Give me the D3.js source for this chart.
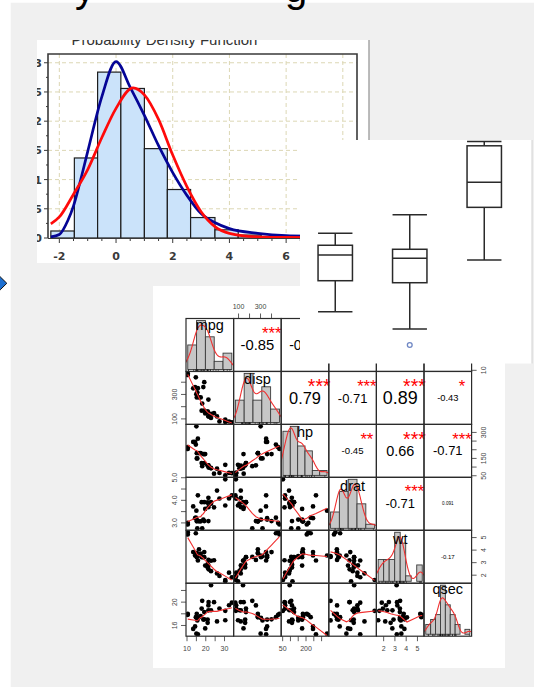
<!DOCTYPE html>
<html><head><meta charset="utf-8">
<script src="https://cdn.jsdelivr.net/npm/d3@7"></script>
<style>html,body{margin:0;padding:0;background:#fff;}svg{display:block;}</style>
</head><body>
<svg id="c" width="534" height="687"></svg>
<script>
// ---------------- data ----------------
const titleFragments = ["y", "g"];
const pdfTitle = "Probability Density Function";
const pdfXTicks = [-2, 0, 2, 4, 6, 8];
const pdfYTicks = [0, 0.05, 0.1, 0.15, 0.2, 0.25, 0.3];
const pdfYTickLabels = ["0", "0.05", "0.1", "0.15", "0.2", "0.25", "0.3"];
const pdfBinEdges = [-2.30, -1.47, -0.65, 0.17, 1.00, 1.81, 2.63, 3.49, 4.31, 5.12];
const pdfBinDensity = [0.012, 0.137, 0.284, 0.256, 0.153, 0.083, 0.035, 0.014, 0.005];
const pdfBlueX = [-2.3, -2.0, -1.7, -1.5, -1.3, -1.0, -0.5, 0, 0.5, 1.0, 1.5, 2.0, 2.5, 3.0, 3.5, 4.0, 5.0, 6.0, 7.0, 8.4];
const pdfBlueY = [0.002, 0.006, 0.03, 0.055, 0.09, 0.148, 0.242, 0.302, 0.258, 0.21, 0.158, 0.112, 0.073, 0.042, 0.026, 0.016, 0.008, 0.004, 0.003, 0.002];
const pdfRedX = [-2.3, -2.0, -1.5, -1.0, -0.5, 0, 0.6, 1.0, 1.5, 2.0, 2.5, 3.0, 3.5, 4.0, 5.0, 6.0, 7.0, 8.4];
const pdfRedY = [0.024, 0.036, 0.075, 0.117, 0.172, 0.222, 0.257, 0.245, 0.203, 0.142, 0.088, 0.045, 0.019, 0.008, 0.002, 0.001, 0.0005, 0.0002];

const boxGroups = ["A", "B", "C"];
const boxWhiskerLow = [2.30, 1.52, 4.62];
const boxQ1 = [3.69, 3.60, 6.98];
const boxMedian = [4.84, 4.70, 8.10];
const boxQ3 = [5.28, 5.10, 9.74];
const boxWhiskerHigh = [5.82, 6.65, 9.93];
const boxOutliers = [[], [0.81], []];

const varNames = ["mpg", "disp", "hp", "drat", "wt", "qsec"];
const mpg = [21.0, 21.0, 22.8, 21.4, 18.7, 18.1, 14.3, 24.4, 22.8, 19.2, 17.8, 16.4, 17.3, 15.2, 10.4, 10.4, 14.7, 32.4, 30.4, 33.9, 21.5, 15.5, 15.2, 13.3, 19.2, 27.3, 26.0, 30.4, 15.8, 19.7, 15.0, 21.4];
const disp = [160.0, 160.0, 108.0, 258.0, 360.0, 225.0, 360.0, 146.7, 140.8, 167.6, 167.6, 275.8, 275.8, 275.8, 472.0, 460.0, 440.0, 78.7, 75.7, 71.1, 120.1, 318.0, 304.0, 350.0, 400.0, 79.0, 120.3, 95.1, 351.0, 145.0, 301.0, 121.0];
const hp = [110, 110, 93, 110, 175, 105, 245, 62, 95, 123, 123, 180, 180, 180, 205, 215, 230, 66, 52, 65, 97, 150, 150, 245, 175, 66, 91, 113, 264, 175, 335, 109];
const drat = [3.90, 3.90, 3.85, 3.08, 3.15, 2.76, 3.21, 3.69, 3.92, 3.92, 3.92, 3.07, 3.07, 3.07, 2.93, 3.00, 3.23, 4.08, 4.93, 4.22, 3.70, 2.76, 3.15, 3.73, 3.08, 4.08, 4.43, 3.77, 4.22, 3.62, 3.54, 4.11];
const wt = [2.620, 2.875, 2.320, 3.215, 3.440, 3.460, 3.570, 3.190, 3.150, 3.440, 3.440, 4.070, 3.730, 3.780, 5.250, 5.424, 5.345, 2.200, 1.615, 1.835, 2.465, 3.520, 3.435, 3.840, 3.845, 1.935, 2.140, 1.513, 3.170, 2.770, 3.570, 2.780];
const qsec = [16.46, 17.02, 18.61, 19.44, 17.02, 20.22, 15.84, 20.00, 22.90, 18.30, 18.90, 17.40, 17.60, 18.00, 17.98, 17.82, 17.42, 19.47, 18.52, 19.90, 20.01, 16.87, 17.30, 15.41, 17.05, 18.90, 16.70, 16.90, 14.50, 15.50, 14.60, 18.60];
const histBreaks = [[10, 15, 20, 25, 30, 35], [0, 100, 200, 300, 400, 500], [50, 100, 150, 200, 250, 300, 350], [2.5, 3, 3.5, 4, 4.5, 5], [1.5, 2, 2.5, 3, 3.5, 4, 4.5, 5, 5.5], [14, 15, 16, 17, 18, 19, 20, 21, 22, 23]];
const axisTickValues = [[10, 15, 20, 25, 30], [100, 200, 300, 400], [50, 100, 150, 200, 250, 300], [3, 3.5, 4, 4.5, 5], [2, 3, 4, 5], [16, 18, 20, 22]];
const axisColLabels = [["10", "20", "30"], ["100", "300"], ["50", "200"], ["3.0", "4.0", "5.0"], ["2", "3", "4", "5"], ["16", "20"]];
const axisRowLabels = [["10", "20", "30"], ["100", "300"], ["50", "150", "300"], ["3.0", "4.0", "5.0"], ["2", "3", "4", "5"], ["16", "20"]];
const corrPairs = [[0,1],[0,2],[0,3],[0,4],[0,5],[1,2],[1,3],[1,4],[1,5],[2,3],[2,4],[2,5],[3,4],[3,5],[4,5]];
const corrLabels = ["-0.85", "-0.78", "0.68", "-0.87", "0.42", "0.79", "-0.71", "0.89", "-0.43", "-0.45", "0.66", "-0.71", "-0.71", "0.091", "-0.17"];
const corrStars = ["***", "***", "***", "***", "*", "***", "***", "***", "*", "**", "***", "***", "***", "", ""];

// ---------------- helpers ----------------
function lowess(xIn, yIn, f, iter) {
  const n = xIn.length;
  const order = d3.range(n).sort((a, b) => xIn[a] - xIn[b]);
  const x = order.map(i => xIn[i]), y = order.map(i => yIn[i]);
  const ys = new Array(n).fill(0), rw = new Array(n).fill(1), res = new Array(n).fill(0), w = new Array(n).fill(0);
  const range = x[n - 1] - x[0];
  const delta = 0.01 * range;
  const ns = Math.max(2, Math.min(n, Math.floor(f * n + 1e-7)));
  function lowest(xs, nleft, nright, userw) {
    const h = Math.max(xs - x[nleft], x[nright] - xs);
    const h9 = 0.999 * h, h1 = 0.001 * h;
    let a = 0, j = nleft;
    while (j < n) {
      w[j] = 0;
      const r = Math.abs(x[j] - xs);
      if (r <= h9) {
        if (r <= h1) w[j] = 1; else w[j] = Math.pow(1 - Math.pow(r / h, 3), 3);
        if (userw) w[j] *= rw[j];
        a += w[j];
      } else if (x[j] > xs) break;
      j++;
    }
    const nrt = j - 1;
    if (a <= 0) return null;
    for (j = nleft; j <= nrt; j++) w[j] /= a;
    if (h > 0) {
      a = 0;
      for (j = nleft; j <= nrt; j++) a += w[j] * x[j];
      let b = xs - a, c = 0;
      for (j = nleft; j <= nrt; j++) c += w[j] * (x[j] - a) * (x[j] - a);
      if (Math.sqrt(c) > 0.001 * range) {
        b /= c;
        for (j = nleft; j <= nrt; j++) w[j] *= (b * (x[j] - a) + 1);
      }
    }
    let s = 0;
    for (j = nleft; j <= nrt; j++) s += w[j] * y[j];
    return s;
  }
  for (let it = 1; it <= iter + 1; it++) {
    let nleft = 0, nright = ns - 1, last = -1, i = 0;
    for (;;) {
      if (nright < n - 1) {
        const d1 = x[i] - x[nleft], d2 = x[nright + 1] - x[i];
        if (d1 > d2) { nleft++; nright++; continue; }
      }
      const v = lowest(x[i], nleft, nright, it > 1);
      ys[i] = v === null ? y[i] : v;
      if (last < i - 1) {
        const denom = x[i] - x[last];
        for (let j = last + 1; j < i; j++) {
          const al = (x[j] - x[last]) / denom;
          ys[j] = al * ys[i] + (1 - al) * ys[last];
        }
      }
      last = i;
      const cut = x[last] + delta;
      for (i = last + 1; i < n; i++) {
        if (x[i] > cut) break;
        if (x[i] === x[last]) { ys[i] = ys[last]; last = i; }
      }
      i = Math.max(last + 1, i - 1);
      if (last >= n - 1) break;
    }
    for (let k = 0; k < n; k++) res[k] = y[k] - ys[k];
    if (it > iter) break;
    const sc = d3.sum(res, r => Math.abs(r)) / n;
    const absr = res.map(Math.abs);
    const sorted = absr.slice().sort((a, b) => a - b);
    const m1 = Math.floor(n / 2);
    const cmad = (n % 2 === 0) ? 3 * (sorted[m1 - 1] + sorted[m1]) : 6 * sorted[m1];
    if (cmad < 1e-7 * sc) break;
    const c9 = 0.999 * cmad, c1 = 0.001 * cmad;
    for (let k = 0; k < n; k++) {
      const r = absr[k];
      rw[k] = r <= c1 ? 1 : (r > c9 ? 0 : Math.pow(1 - (r / cmad) * (r / cmad), 2));
    }
  }
  return x.map((xv, k) => [xv, ys[k]]);
}
function kde(values) {
  const s = values.slice().sort((a, b) => a - b);
  const sd = d3.deviation(s);
  const iqr = d3.quantile(s, 0.75) - d3.quantile(s, 0.25);
  let lo = Math.min(sd, iqr / 1.34);
  if (!lo) lo = sd || 1;
  const bw = 0.9 * lo * Math.pow(s.length, -0.2);
  const a = s[0] - 3 * bw, b = s[s.length - 1] + 3 * bw;
  const pts = [];
  for (let i = 0; i < 512; i++) {
    const xv = a + (b - a) * i / 511;
    let sum = 0;
    for (const v of s) { const z = (xv - v) / bw; sum += Math.exp(-0.5 * z * z); }
    pts.push([xv, sum / (s.length * bw * Math.sqrt(2 * Math.PI))]);
  }
  return pts;
}

// ---------------- drawing ----------------
const svg = d3.select("#c");
const defs = svg.append("defs");
svg.append("rect").attr("width", 534).attr("height", 687).attr("fill", "#ffffff");
svg.append("rect").attr("x", 10.7).attr("y", 2.7).attr("width", 534 - 10.7).attr("height", 687 - 2.7).attr("fill", "#f0f0f0");

// title fragments at the top edge
svg.append("text").attr("x", 75).attr("y", 1.5).attr("font-family", "Liberation Sans, Arial, sans-serif")
  .attr("font-size", 40).attr("fill", "#000").text(titleFragments[0]);
svg.append("text").attr("x", 285).attr("y", 1.5).attr("font-family", "Liberation Sans, Arial, sans-serif")
  .attr("font-size", 40).attr("fill", "#000").text(titleFragments[1]);

// left arrow bullet
svg.append("path").attr("d", "M-6.5,283.3 L0.2,276.8 L6.8,283.3 L0.2,289.8 Z")
  .attr("fill", "#1d6fd0").attr("stroke", "#111").attr("stroke-width", 1);

// ===== PDF histogram panel =====
defs.append("clipPath").attr("id", "clipPdf").append("rect").attr("x", 37).attr("y", 40).attr("width", 332).attr("height", 223);
const gP = svg.append("g").attr("clip-path", "url(#clipPdf)");
gP.append("rect").attr("x", 37).attr("y", 40).attr("width", 332).attr("height", 223).attr("fill", "#fff");
const px = d3.scaleLinear().domain([-2.4, 8.5]).range([48, 357]);
const py = d3.scaleLinear().domain([0, 0.315]).range([238, 54]);
gP.append("g").selectAll("line").data(pdfXTicks).join("line")
  .attr("x1", d => px(d)).attr("x2", d => px(d)).attr("y1", 54).attr("y2", 238)
  .attr("stroke", "#dcd7b4").attr("stroke-dasharray", "4,3").attr("stroke-width", 1);
gP.append("g").selectAll("line").data(pdfYTicks.slice(1)).join("line")
  .attr("x1", 48).attr("x2", 357).attr("y1", d => py(d)).attr("y2", d => py(d))
  .attr("stroke", "#dcd7b4").attr("stroke-dasharray", "4,3").attr("stroke-width", 1);
gP.append("g").selectAll("rect").data(pdfBinDensity).join("rect")
  .attr("x", (d, i) => px(pdfBinEdges[i])).attr("width", (d, i) => px(pdfBinEdges[i + 1]) - px(pdfBinEdges[i]))
  .attr("y", d => py(d)).attr("height", d => py(0) - py(d))
  .attr("fill", "#cbe3fa").attr("stroke", "#1e1e1e").attr("stroke-width", 1.2);
const pline = d3.line().x(d => px(d[0])).y(d => py(d[1])).curve(d3.curveMonotoneX);
gP.append("path").attr("d", pline(pdfBlueX.map((v, i) => [v, pdfBlueY[i]])))
  .attr("fill", "none").attr("stroke", "#050596").attr("stroke-width", 2.7);
gP.append("path").attr("d", pline(pdfRedX.map((v, i) => [v, pdfRedY[i]])))
  .attr("fill", "none").attr("stroke", "#ff0a0a").attr("stroke-width", 2.7);
gP.append("path").attr("d", `M${px(-2.4)},${py(0)}V${py(0.315)}H${px(8.5)}V${py(0)}`)
  .attr("fill", "none").attr("stroke", "#3a3a3a").attr("stroke-width", 1.6);
gP.append("line").attr("x1", px(-2.4)).attr("x2", px(8.5)).attr("y1", py(0) + 0.5).attr("y2", py(0) + 0.5)
  .attr("stroke", "#3a3a3a").attr("stroke-width", 1.2);
const minorX = d3.range(-2, 8.01, 0.5);
gP.append("g").selectAll("line").data(minorX).join("line")
  .attr("x1", d => px(d)).attr("x2", d => px(d)).attr("y1", py(0) + 0.5)
  .attr("y2", d => py(0) + (Number.isInteger(d / 2) ? 5 : 3))
  .attr("stroke", "#3a3a3a").attr("stroke-width", 1);
const minorY = d3.range(0, 0.3001, 0.025);
gP.append("g").selectAll("line").data(minorY).join("line")
  .attr("x1", px(-2.4)).attr("x2", (d, i) => px(-2.4) - (i % 2 === 0 ? 4 : 2))
  .attr("y1", d => py(d)).attr("y2", d => py(d)).attr("stroke", "#3a3a3a").attr("stroke-width", 1);
gP.append("g").selectAll("text").data(pdfXTicks).join("text")
  .attr("x", d => px(d)).attr("y", 260).attr("text-anchor", "middle")
  .attr("font-family", "DejaVu Sans, Verdana, sans-serif").attr("font-weight", "bold").attr("font-size", 11)
  .attr("fill", "#3a3a3a").text(d => d);
gP.append("g").selectAll("text").data(pdfYTicks).join("text")
  .attr("x", 42).attr("y", d => py(d) + 4).attr("text-anchor", "end")
  .attr("font-family", "DejaVu Sans, Verdana, sans-serif").attr("font-weight", "bold").attr("font-size", 11)
  .attr("fill", "#3a3a3a").text((d, i) => pdfYTickLabels[i]);
gP.append("text").attr("x", 164.5).attr("y", 45).attr("text-anchor", "middle")
  .attr("font-family", "Liberation Sans, Arial, sans-serif").attr("font-size", 15).attr("fill", "#333").text(pdfTitle);
svg.append("line").attr("x1", 369).attr("x2", 369).attr("y1", 40).attr("y2", 263)
  .attr("stroke", "#a6a6a6").attr("stroke-width", 1.5);

// ===== scatterplot matrix panel =====
svg.append("rect").attr("x", 153).attr("y", 286).attr("width", 352).attr("height", 382).attr("fill", "#fff");
const datasets = [mpg, disp, hp, drat, wt, qsec];
const nv = datasets.length;
const L = 186, T = 318.5, cw = 47.6, ch = 52.95;
const FONT = "Liberation Sans, Arial, sans-serif";
const ext = a => { const [mn, mx] = d3.extent(a); const r = mx - mn; return [mn - 0.04 * r, mx + 0.04 * r]; };
const xS = datasets.map((d, j) => d3.scaleLinear().domain(ext(d)).range([L + j * cw, L + (j + 1) * cw]));
const yS = datasets.map((d, i) => d3.scaleLinear().domain(ext(d)).range([T + (i + 1) * ch, T + i * ch]));
const gM = svg.append("g");
for (let i = 0; i < nv; i++) {
  for (let j = 0; j < nv; j++) {
    const id = `cell${i}_${j}`;
    defs.append("clipPath").attr("id", id).append("rect")
      .attr("x", L + j * cw).attr("y", T + i * ch).attr("width", cw).attr("height", ch);
  }
}
const redLine = "#f03030";
// lower: scatter + lowess
for (let i = 0; i < nv; i++) {
  for (let j = 0; j < i; j++) {
    const g = gM.append("g").attr("clip-path", `url(#cell${i}_${j})`);
    const pts = datasets[j].map((v, k) => [v, datasets[i][k]]);
    g.selectAll("circle").data(pts).join("circle")
      .attr("cx", d => xS[j](d[0])).attr("cy", d => yS[i](d[1])).attr("r", 2.35).attr("fill", "#000");
    const lw = lowess(datasets[j], datasets[i], 2 / 3, 3);
    g.append("path").attr("d", d3.line().x(d => xS[j](d[0])).y(d => yS[i](d[1]))(lw))
      .attr("fill", "none").attr("stroke", redLine).attr("stroke-width", 1.1);
  }
}
// diagonal: histograms
for (let k = 0; k < nv; k++) {
  const vals = datasets[k], br = histBreaks[k];
  const counts = br.slice(0, -1).map((b0, bi) => vals.filter(v => (bi === 0 ? v >= b0 : v > b0) && v <= br[bi + 1]).length);
  const dens = counts.map((c, bi) => c / (vals.length * (br[bi + 1] - br[bi])));
  const mxd = d3.max(dens);
  const r = br[br.length - 1] - br[0];
  const hx = d3.scaleLinear().domain([br[0] - 0.04 * r, br[br.length - 1] + 0.04 * r]).range([L + k * cw, L + (k + 1) * cw]);
  const hy = d3.scaleLinear().domain([-0.04 * mxd, 1.04 * mxd]).range([T + (k + 1) * ch, T + k * ch]);
  const g = gM.append("g").attr("clip-path", `url(#cell${k}_${k})`);
  g.selectAll("rect").data(dens).join("rect")
    .attr("x", (d, bi) => hx(br[bi])).attr("width", (d, bi) => hx(br[bi + 1]) - hx(br[bi]))
    .attr("y", d => hy(d)).attr("height", d => hy(0) - hy(d))
    .attr("fill", "#c6c6c6").attr("stroke", "#3a3a3a").attr("stroke-width", 0.9);
  g.append("path").attr("d", d3.line().x(d => hx(d[0])).y(d => hy(d[1]))(kde(vals)))
    .attr("fill", "none").attr("stroke", redLine).attr("stroke-width", 1.1);
  g.selectAll("line.rug").data(vals).join("line").attr("class", "rug")
    .attr("x1", d => hx(d)).attr("x2", d => hx(d)).attr("y1", T + (k + 1) * ch).attr("y2", T + (k + 1) * ch - 1.8)
    .attr("stroke", "#000").attr("stroke-width", 0.6);
  const name = varNames[k];
  const asc = /[bdfhklt]/.test(name) ? 0.716 : 0.519;
  const desc = /[gjpqy]/.test(name) ? 0.21 : 0;
  const fsz = 14.5;
  gM.append("text").attr("x", L + (k + 0.5) * cw)
    .attr("y", T + k * ch + ch * (1 - 0.8333) + (asc - desc) / 2 * fsz)
    .attr("text-anchor", "middle").attr("font-family", FONT).attr("font-size", fsz).attr("fill", "#000").text(name);
}
// upper: correlations
corrPairs.forEach((p, idx) => {
  const [i, j] = p;
  const x0 = L + j * cw, y0 = T + i * ch;
  const t = gM.append("text").attr("font-family", FONT).attr("font-size", 10).text(corrLabels[idx]);
  const len = t.node().getComputedTextLength();
  const fsFull = 10 * (0.8 * cw) / len;
  const rv = Math.abs(parseFloat(corrLabels[idx]));
  const fs = fsFull * (rv + 0.3) / 1.3;
  t.attr("font-size", fs).attr("x", x0 + 0.5 * cw).attr("y", y0 + 0.5 * ch + 0.355 * fs)
    .attr("text-anchor", "middle").attr("fill", "#000");
  if (corrStars[idx]) {
    gM.append("text").attr("font-family", FONT).attr("font-size", fsFull)
      .attr("x", x0 + 0.8 * cw).attr("y", y0 + 0.2 * ch + 0.57 * fsFull)
      .attr("text-anchor", "middle").attr("fill", "#ff0000").text(corrStars[idx]);
  }
});
// cell frames
for (let i = 0; i < nv; i++) for (let j = 0; j < nv; j++) {
  gM.append("rect").attr("x", L + j * cw).attr("y", T + i * ch).attr("width", cw).attr("height", ch)
    .attr("fill", "none").attr("stroke", "#2b2b2b").attr("stroke-width", 1.2);
}
// axes
const axCol = "#444", tickLen = 5, afs = 7;
for (let j = 0; j < nv; j++) {
  const bottom = (j % 2 === 0);
  const yAx = bottom ? T + nv * ch : T;
  const sgn = bottom ? 1 : -1;
  gM.append("g").selectAll("line").data(axisTickValues[j]).join("line")
    .attr("x1", d => xS[j](d)).attr("x2", d => xS[j](d)).attr("y1", yAx).attr("y2", yAx + sgn * tickLen)
    .attr("stroke", "#333").attr("stroke-width", 0.8);
  gM.append("g").selectAll("text").data(axisColLabels[j]).join("text")
    .attr("x", d => xS[j](parseFloat(d))).attr("y", yAx + sgn * 12 + 0.355 * afs)
    .attr("text-anchor", "middle").attr("font-family", FONT).attr("font-size", afs).attr("fill", axCol).text(d => d);
}
for (let i = 0; i < nv; i++) {
  const left = (i % 2 === 1);
  const xAx = left ? L : L + nv * cw;
  const sgn = left ? -1 : 1;
  gM.append("g").selectAll("line").data(axisTickValues[i]).join("line")
    .attr("y1", d => yS[i](d)).attr("y2", d => yS[i](d)).attr("x1", xAx).attr("x2", xAx + sgn * tickLen)
    .attr("stroke", "#333").attr("stroke-width", 0.8);
  gM.append("g").selectAll("text").data(axisRowLabels[i]).join("text")
    .attr("transform", d => `translate(${xAx + sgn * 11.5 + 0.355 * afs},${yS[i](parseFloat(d))}) rotate(-90)`)
    .attr("text-anchor", "middle").attr("font-family", FONT).attr("font-size", afs).attr("fill", axCol).text(d => d);
}

// ===== boxplot panel (on top) =====
svg.append("rect").attr("x", 300).attr("y", 140).attr("width", 232).attr("height", 223.5).attr("fill", "#fff");
svg.append("line").attr("x1", 532).attr("x2", 532).attr("y1", 140).attr("y2", 363.5).attr("stroke", "#d2d2d2").attr("stroke-width", 1);
const bx = d3.scaleBand().domain(boxGroups).range([298, 521.5]);
const by = d3.scaleLinear().domain([0, 10]).range([363, 140]);
const bwid = 34.4;
const gB = svg.append("g").attr("stroke", "#2a2a2a").attr("stroke-width", 1.5).attr("fill", "none");
boxGroups.forEach((g, i) => {
  const cx = bx(g) + bx.bandwidth() / 2;
  gB.append("line").attr("x1", cx).attr("x2", cx).attr("y1", by(boxWhiskerHigh[i])).attr("y2", by(boxQ3[i]));
  gB.append("line").attr("x1", cx).attr("x2", cx).attr("y1", by(boxQ1[i])).attr("y2", by(boxWhiskerLow[i]));
  gB.append("line").attr("x1", cx - bwid / 2).attr("x2", cx + bwid / 2).attr("y1", by(boxWhiskerHigh[i])).attr("y2", by(boxWhiskerHigh[i]));
  gB.append("line").attr("x1", cx - bwid / 2).attr("x2", cx + bwid / 2).attr("y1", by(boxWhiskerLow[i])).attr("y2", by(boxWhiskerLow[i]));
  gB.append("rect").attr("x", cx - bwid / 2).attr("width", bwid).attr("y", by(boxQ3[i])).attr("height", by(boxQ1[i]) - by(boxQ3[i])).attr("fill", "#fff");
  gB.append("line").attr("x1", cx - bwid / 2).attr("x2", cx + bwid / 2).attr("y1", by(boxMedian[i])).attr("y2", by(boxMedian[i]));
  boxOutliers[i].forEach(o => {
    svg.append("circle").attr("cx", cx).attr("cy", by(o)).attr("r", 2.4)
      .attr("fill", "none").attr("stroke", "#6f87c4").attr("stroke-width", 1.3);
  });
});
</script>
</body></html>
